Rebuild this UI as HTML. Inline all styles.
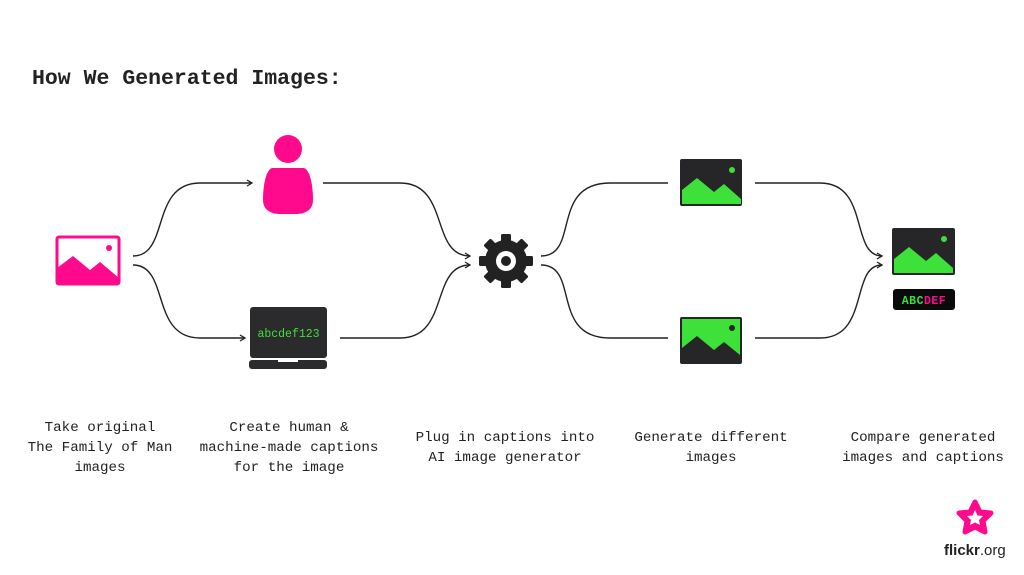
<!DOCTYPE html>
<html><head><meta charset="utf-8"><style>
html,body{margin:0;padding:0;background:#fff;}
svg{display:block}
text{font-family:"Liberation Mono",monospace;}
</style></head><body>
<svg width="1024" height="575" viewBox="0 0 1024 575" xmlns="http://www.w3.org/2000/svg">
<defs>
<marker id="a" markerWidth="8" markerHeight="8" refX="6" refY="4" orient="auto" markerUnits="userSpaceOnUse">
<path d="M1,1 L6,4 L1,7" fill="none" stroke="#222" stroke-width="1.3"/>
</marker>
</defs>
<rect width="1024" height="575" fill="#fff"/>
<text x="32" y="84" font-size="21.5" font-weight="bold" fill="#222">How We Generated Images:</text>

<g fill="none" stroke="#222" stroke-width="1.4">
<path d="M133,256 C170,256 150,183 200,183 L252,183" marker-end="url(#a)"/>
<path d="M133,265 C170,265 150,338 200,338 L245,338" marker-end="url(#a)"/>
<path d="M323,183 L400,183 C450,183 430,256 470,256" marker-end="url(#a)"/>
<path d="M340,338 L400,338 C450,338 430,265 470,265" marker-end="url(#a)"/>
<path d="M541,256 C580,256 550,183 610,183 L668,183"/>
<path d="M541,265 C580,265 550,338 610,338 L668,338"/>
<path d="M755,183 L820,183 C870,183 850,256 882,256" marker-end="url(#a)"/>
<path d="M755,338 L820,338 C870,338 850,265 882,265" marker-end="url(#a)"/>
</g>

<!-- pink image -->
<rect x="57" y="237" width="62" height="47" rx="2" fill="none" stroke="#ff0a8c" stroke-width="3"/>
<path d="M57,268 L73,256 L90,270 L100,262 L119,278 L119,284 L57,284 Z" fill="#ff0a8c"/>
<circle cx="109" cy="248" r="3" fill="#ff0a8c"/>

<!-- person -->
<circle cx="288" cy="149" r="14" fill="#ff0a8c"/>
<path d="M272,168 L304,168 C310,170 313,185 313,200 C313,210 305,214 296,214 L280,214 C271,214 263,210 263,200 C263,185 266,170 272,168 Z" fill="#ff0a8c"/>

<!-- laptop -->
<rect x="250" y="307" width="77" height="51" rx="3" fill="#2b2b2d"/>
<rect x="249" y="360" width="78" height="9" rx="3" fill="#2b2b2d"/>
<rect x="278" y="360" width="20" height="2" fill="#fff"/>
<text x="288.5" y="337" font-size="11.5" fill="#3ee03a" text-anchor="middle">abcdef123</text>

<!-- gear -->
<g transform="translate(506,261)" fill="#222">
<g id="t">
<rect x="-5" y="-27" width="10" height="54" rx="1.5"/>
</g>
<use href="#t" transform="rotate(45)"/>
<use href="#t" transform="rotate(90)"/>
<use href="#t" transform="rotate(135)"/>
<circle r="21"/>
<circle r="10" fill="#fff"/>
<circle r="5" fill="#222"/>
</g>

<!-- top green image -->
<rect x="680" y="159" width="62" height="47" rx="2" fill="#262628"/>
<path d="M682,190 L697,178 L714,192 L724,184 L741,199 L741,204 L682,204 Z" fill="#3ee03a"/>
<circle cx="732" cy="170" r="3" fill="#3ee03a"/>

<!-- bottom image -->
<rect x="680" y="317" width="62" height="47" rx="2" fill="#262628"/>
<path d="M682,319 L740,319 L740,355 L724,342 L714,350 L697,336 L682,348 Z" fill="#3ee03a"/>
<circle cx="732" cy="328" r="3" fill="#262628"/>

<!-- final -->
<rect x="892" y="228" width="63" height="47" rx="2" fill="#262628"/>
<path d="M894,259 L909,247 L926,261 L936,253 L953,268 L953,273 L894,273 Z" fill="#3ee03a"/>
<circle cx="944" cy="239" r="3" fill="#3ee03a"/>
<rect x="893" y="289" width="62" height="21" rx="3" fill="#0a0a0a"/>
<text x="924" y="304" font-size="11.5" font-weight="bold" text-anchor="middle" fill="#3ee03a" letter-spacing="0.5">ABC<tspan fill="#ff0a8c">DEF</tspan></text>

<g font-size="14.2" fill="#222" text-anchor="middle">
<text x="100" y="431">Take original</text>
<text x="100" y="451">The Family of Man</text>
<text x="100" y="471">images</text>
<text x="289" y="431">Create human &amp;</text>
<text x="289" y="451">machine-made captions</text>
<text x="289" y="471">for the image</text>
<text x="505" y="441">Plug in captions into</text>
<text x="505" y="461">AI image generator</text>
<text x="711" y="441">Generate different</text>
<text x="711" y="461">images</text>
<text x="923" y="441">Compare generated</text>
<text x="923" y="461">images and captions</text>
</g>

<!-- flickr logo -->
<g transform="translate(975,518)">
<path d="M0,-16 L5,-6 L16,-5 L8,3 L10,14 L0,9 L-10,14 L-8,3 L-16,-5 L-5,-6 Z" fill="#ff0a8c" stroke="#ff0a8c" stroke-width="5" stroke-linejoin="round"/>
<path d="M0,-8 L2.5,-2.5 L8,-2 L4,2 L5,7 L0,4.5 L-5,7 L-4,2 L-8,-2 L-2.5,-2.5 Z" fill="#fff"/>
</g>
<text x="944" y="555" font-family="Liberation Sans,sans-serif" font-size="15" fill="#222" style="font-family:'Liberation Sans',sans-serif"><tspan font-weight="bold">flickr</tspan>.org</text>
</svg>
</body></html>
